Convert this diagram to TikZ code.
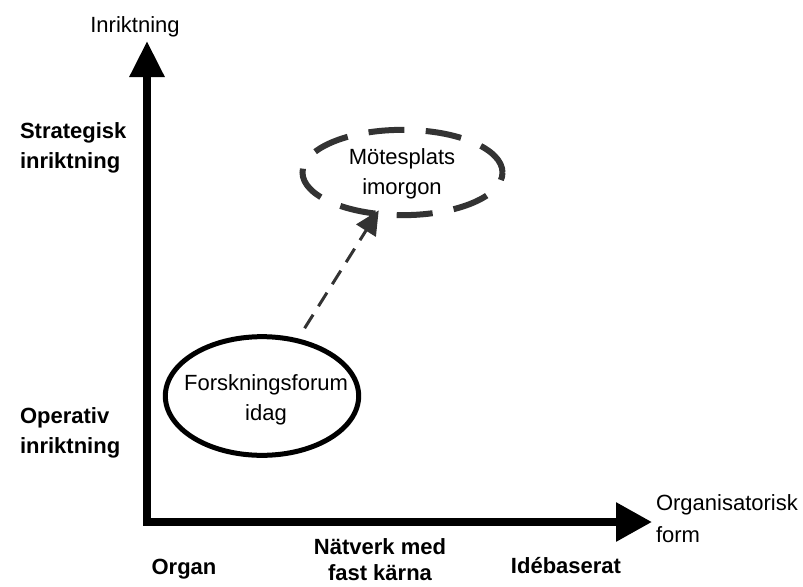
\documentclass[tikz,border=0pt]{standalone}
\usepackage{fontspec}
\setmainfont{Liberation Sans}
\usetikzlibrary{arrows.meta}
\usetikzlibrary{shapes.geometric}

\begin{document}
\begin{tikzpicture}[x=0.75pt,y=-0.75pt,font=\fontsize{16.5}{22.5}\selectfont,
        every node/.style={inner sep=0pt,outer sep=0pt},
        levellabel/.style={font=\fontsize{16.5}{22.5}\selectfont\bfseries,align=left},
        formlabel/.style={font=\fontsize{16.5}{20}\selectfont\bfseries,align=center},
        todayring/.style={ellipse,draw,line width=3.75pt,minimum width=145pt,minimum height=89pt},
        futurering/.style={ellipse,draw=black!80,line width=4.5pt,dash pattern=on 27pt off 16pt,
            minimum width=150pt,minimum height=64pt},
        trend/.style={draw=black!80,line width=2.25pt,dash pattern=on 12pt off 7.5pt,
            shorten <=11pt,shorten >=-3pt,-{Triangle[length=18pt,width=17pt]}}]
        \useasboundingbox (0,0) rectangle (803,586);
        \begin{scope}
            \coordinate (origin) at (147,522);
            \coordinate (ytip) at (147,41);
            \coordinate (xtip) at (652,522);
            \draw [line width=6pt,{Triangle[length=27pt,width=25pt]}-{Triangle[length=27pt,width=28pt]}]
                (ytip) -- (origin) -- (xtip);
            \node [anchor=base] (yname) at (135,32) {Inriktning};
            \node [anchor=north west,align=left,font=\fontsize{16.5}{24}\selectfont] (xname) at (656,495) {Organisatorisk\\form};
        \end{scope}
        \node [levellabel,anchor=north west] (strategic) at (20,123) {Strategisk\\inriktning};
        \node [levellabel,anchor=north west] (operative) at (20,408) {Operativ\\inriktning};
        \node [formlabel,anchor=base] (organ) at (184,574) {Organ};
        \node [formlabel,anchor=south] (network) at (380,581) {Nätverk med\\fast kärna};
        \node [formlabel,anchor=base] (idea) at (566,573) {Idébaserat};
        \node [todayring] (today) at (262,396) {};
        \node [align=center] (todaytext) at (266,400) {Forskningsforum\\idag};
        \node [futurering] (future) at (402.5,172.5) {};
        \node [align=center] (futuretext) at (402,174) {Mötesplats\\imorgon};
        \draw [trend] (today) -- (future);
    \end{tikzpicture}
\end{document}
